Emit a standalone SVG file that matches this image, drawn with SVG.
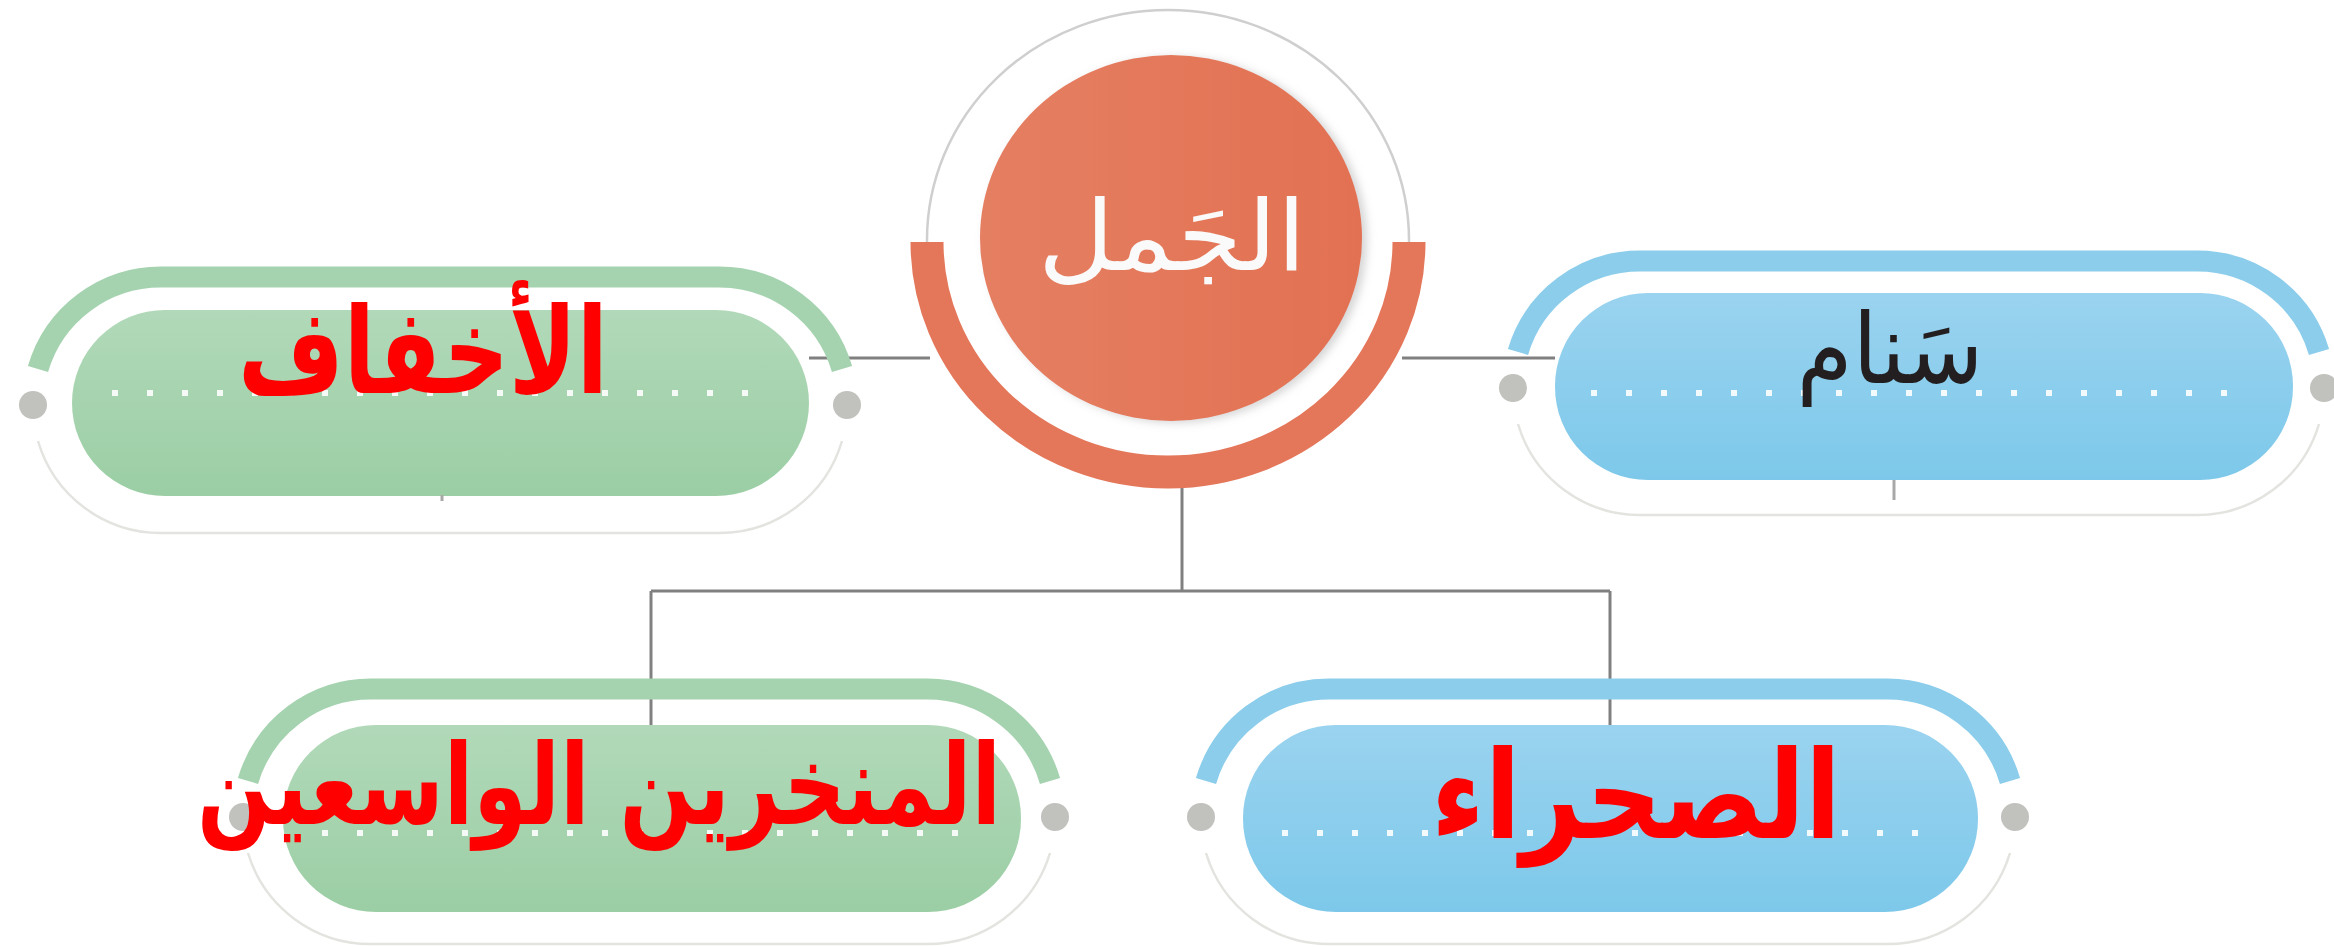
<svg xmlns="http://www.w3.org/2000/svg" width="2334" height="947" viewBox="0 0 2334 947">
  <style>
    .conn { stroke: #808080; stroke-width: 3; fill: none; }
    .band-g { stroke: #a5d3b0; stroke-width: 21; fill: none; }
    .band-b { stroke: #8bcdeb; stroke-width: 21; fill: none; }
    .faint { stroke: #e3e3e0; stroke-width: 2.5; fill: none; }
    .dot { fill: #c1c1bd; }
    .dots { stroke: #ffffff; stroke-width: 6; stroke-dasharray: 6 29; opacity: 0.9; }
    .tick { stroke: #a8a8a8; stroke-width: 3; }
    .red { font-family: "DejaVu Sans", sans-serif; font-weight: bold; fill: #ff0000; text-anchor: middle; }
    .blk { font-family: "DejaVu Sans", sans-serif; fill: #231f20; text-anchor: middle; }
    .wht { font-family: "DejaVu Sans", sans-serif; fill: #fafafa; text-anchor: middle; }
  </style>
  <defs>
    <linearGradient id="gG" x1="0" y1="0" x2="0" y2="1">
      <stop offset="0" stop-color="#b1d9b9"/>
      <stop offset="1" stop-color="#9bcea4"/>
    </linearGradient>
    <linearGradient id="gB" x1="0" y1="0" x2="0" y2="1">
      <stop offset="0" stop-color="#9ad3ef"/>
      <stop offset="1" stop-color="#7dc8ea"/>
    </linearGradient>
    <linearGradient id="gO" x1="0" y1="0" x2="1" y2="0">
      <stop offset="0" stop-color="#e57f62"/>
      <stop offset="1" stop-color="#e27152"/>
    </linearGradient>
    <filter id="sh" x="-10%" y="-10%" width="120%" height="120%">
      <feDropShadow dx="5" dy="2" stdDeviation="4" flood-color="#888888" flood-opacity="0.35"/>
    </filter>
  </defs>
  <rect width="2334" height="947" fill="#ffffff"/>

  <g id="connectors">
    <line class="conn" x1="809" y1="358" x2="930" y2="358"/>
    <line class="conn" x1="1402" y1="358" x2="1555" y2="358"/>
    <line class="conn" x1="1182" y1="485" x2="1182" y2="591"/>
    <line class="conn" x1="651" y1="591" x2="1610" y2="591"/>
    <line class="conn" x1="651" y1="591" x2="651" y2="727"/>
    <line class="conn" x1="1610" y1="591" x2="1610" y2="727"/>
  </g>

  <g id="node-center">
    <ellipse cx="1168" cy="240" rx="241" ry="230" fill="#ffffff" stroke="#cfcfcf" stroke-width="2.5"/>
    <path d="M 927 242 A 241 230 0 0 0 1409 242" fill="none" stroke="#e4775a" stroke-width="33"/>
    <ellipse cx="1171" cy="238" rx="191" ry="183" fill="url(#gO)" filter="url(#sh)"/>
    <text class="wht" x="1172" y="270" font-size="98" direction="rtl" textLength="268" lengthAdjust="spacingAndGlyphs">الجَمل</text>
  </g>

  <g id="node-akhfaf">
    <path class="band-g" d="M 38 369 A 128 128 0 0 1 161 277 L 719 277 A 128 128 0 0 1 842 369"/>
    <path class="faint" d="M 38 441 A 128 128 0 0 0 161 533 L 719 533 A 128 128 0 0 0 842 441"/>
    <circle class="dot" cx="33" cy="405" r="14"/>
    <circle class="dot" cx="847" cy="405" r="14"/>
    <rect x="72" y="310" width="737" height="186" rx="93" fill="url(#gG)"/>
    <line class="dots" x1="112" y1="393" x2="775" y2="393"/>
    <line class="tick" x1="442" y1="495" x2="442" y2="501"/>
    <text class="red" x="423" y="393" font-size="120" direction="rtl" textLength="370" lengthAdjust="spacingAndGlyphs">الأخفاف</text>
  </g>

  <g id="node-sanam">
    <path class="band-b" d="M 1518 352 A 127 127 0 0 1 1640 261 L 2197 261 A 127 127 0 0 1 2319 352"/>
    <path class="faint" d="M 1518 424 A 127 127 0 0 0 1640 515 L 2197 515 A 127 127 0 0 0 2319 424"/>
    <circle class="dot" cx="1513" cy="388" r="14"/>
    <circle class="dot" cx="2324" cy="388" r="14"/>
    <rect x="1555" y="293" width="738" height="187" rx="93" fill="url(#gB)"/>
    <line class="dots" x1="1591" y1="393" x2="2250" y2="393"/>
    <line class="tick" x1="1894" y1="480" x2="1894" y2="500"/>
    <text class="blk" x="1890" y="383" font-size="98" direction="rtl" textLength="187" lengthAdjust="spacingAndGlyphs">سَنام</text>
  </g>

  <g id="node-nostrils">
    <path class="band-g" d="M 248 781 A 128 128 0 0 1 371 689 L 927 689 A 128 128 0 0 1 1050 781"/>
    <path class="faint" d="M 248 853 A 128 128 0 0 0 371 944 L 927 944 A 128 128 0 0 0 1050 853"/>
    <circle class="dot" cx="243" cy="817" r="14"/>
    <circle class="dot" cx="1055" cy="817" r="14"/>
    <rect x="283" y="725" width="738" height="187" rx="93" fill="url(#gG)"/>
    <line class="dots" x1="322" y1="833" x2="985" y2="833"/>
    <text class="red" x="599" y="824" font-size="112" direction="rtl" textLength="804" lengthAdjust="spacingAndGlyphs">المنخرين الواسعين</text>
  </g>

  <g id="node-desert">
    <path class="band-b" d="M 1206 781 A 128 128 0 0 1 1329 689 L 1887 689 A 128 128 0 0 1 2010 781"/>
    <path class="faint" d="M 1206 853 A 128 128 0 0 0 1329 944 L 1887 944 A 128 128 0 0 0 2010 853"/>
    <circle class="dot" cx="1201" cy="817" r="14"/>
    <circle class="dot" cx="2015" cy="817" r="14"/>
    <rect x="1243" y="725" width="735" height="187" rx="93" fill="url(#gB)"/>
    <line class="dots" x1="1282" y1="833" x2="1945" y2="833"/>
    <text class="red" x="1636" y="838" font-size="122" direction="rtl" textLength="410" lengthAdjust="spacingAndGlyphs">الصحراء</text>
  </g>
</svg>
